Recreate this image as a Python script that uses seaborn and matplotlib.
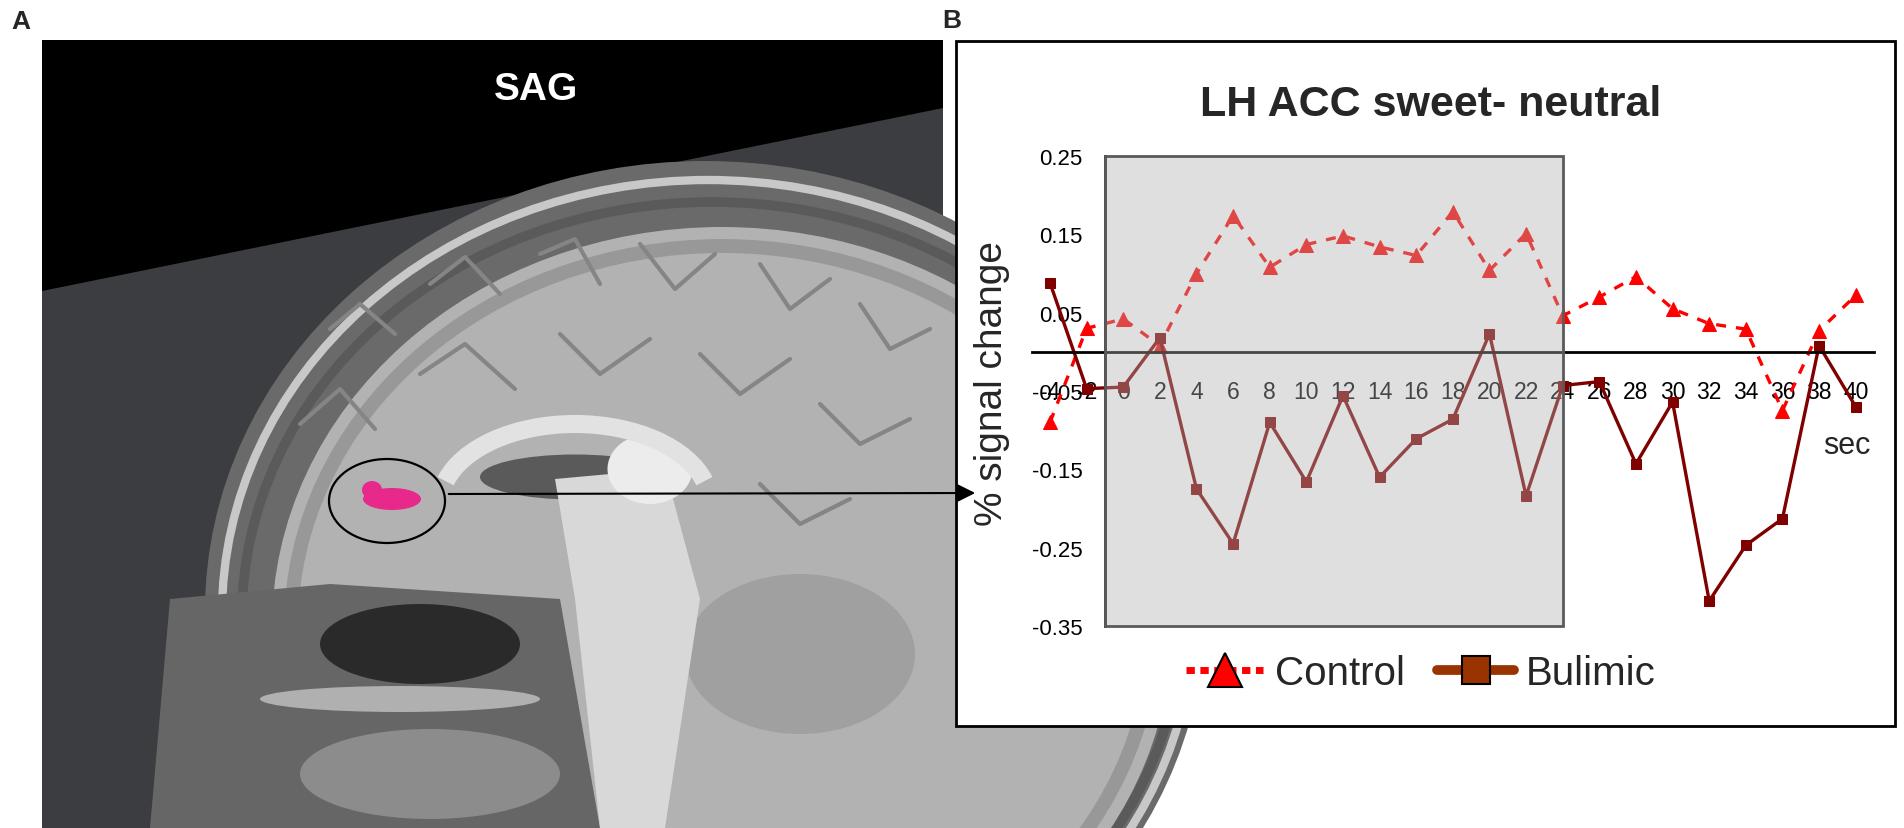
import numpy as np
import seaborn as sns
import matplotlib.pyplot as plt
from matplotlib.patches import Rectangle, Ellipse, Polygon, Arc
from matplotlib.lines import Line2D

# time course (sec) and % signal change
sec = [-4, -2, 0, 2, 4, 6, 8, 10, 12, 14, 16, 18, 20, 22, 24, 26, 28, 30, 32, 34, 36, 38, 40]
control = [-0.09, 0.03, 0.042, 0.008, 0.10, 0.174, 0.108, 0.137, 0.148, 0.134, 0.123, 0.179,
           0.104, 0.151, 0.046, 0.07, 0.096, 0.055, 0.036, 0.029, -0.075, 0.027, 0.072]
bulimic = [0.088, -0.047, -0.045, 0.018, -0.175, -0.245, -0.09, -0.166, -0.056, -0.16, -0.111,
           -0.086, 0.023, -0.184, -0.043, -0.038, -0.143, -0.064, -0.318, -0.247, -0.213, 0.008, -0.07]
x_labels = [str(s) for s in sec]
y_ticks = [0.25, 0.15, 0.05, -0.05, -0.15, -0.25, -0.35]
y_labels = ["0.25", "0.15", "0.05", "-0.05", "-0.15", "-0.25", "-0.35"]
series_names = ["Control", "Bulimic"]
stim_window = (-1, 24)  # shaded taste period

sns.set_theme(style="white")
plt.rcParams["font.family"] = ["Liberation Sans", "DejaVu Sans"]

W, H = 1904, 829
fig = plt.figure(figsize=(W / 100, H / 100), dpi=100)
fig.patch.set_facecolor("white")

# ---- background layer in pixel coords: panel A picture, frame of B, arrow
bg = fig.add_axes([0, 0, 1, 1])
bg.set_xlim(0, W)
bg.set_ylim(H, 0)
bg.axis("off")

panel = Rectangle((42, 41), 901, 788, fc="black", ec="none", zorder=1)
bg.add_patch(panel)

# rough sketch of the sagittal slice
mri = [
    Polygon([(42, 292), (943, 109), (943, 829), (42, 829)], fc="#3b3d40"),
    Ellipse((705, 612), 1000, 900, fc="#6a6a6a"),
    Ellipse((708, 615), 972, 868, fill=False, ec="#c8c8c8", lw=6),
    Ellipse((712, 618), 940, 830, fill=False, ec="#5a5a5a", lw=7),
    Ellipse((722, 628), 900, 800, fc="#b2b2b2"),
    Ellipse((722, 628), 862, 762, fill=False, ec="#989898", lw=10),
    Polygon([(170, 600), (330, 585), (560, 600), (600, 829), (150, 829)], fc="#666666"),
    Ellipse((420, 645), 200, 80, fc="#2a2a2a"),
    Ellipse((400, 700), 280, 26, fc="#b0b0b0"),
    Ellipse((430, 775), 260, 90, fc="#8c8c8c"),
    Ellipse((800, 655), 230, 160, fc="#a0a0a0"),
    Ellipse((575, 478), 190, 45, fc="#5a5a5a"),
    Polygon([(555, 480), (665, 470), (700, 600), (665, 829), (600, 829), (575, 600)], fc="#d8d8d8"),
    Ellipse((650, 470), 85, 70, fc="#ececec"),
]
for p in mri:
    p.set_zorder(2)
    p.set_edgecolor(p.get_edgecolor() if not p.get_fill() else "none")
    p.set_clip_path(panel)
    bg.add_patch(p)

cc = Arc((575, 505), 270, 160, theta1=190, theta2=350, color="#e2e2e2", lw=13, zorder=3)
cc.set_clip_path(panel)
bg.add_patch(cc)

sulci = [
    [(330, 330), (360, 305), (395, 335)], [(430, 285), (465, 258), (500, 295)],
    [(540, 255), (575, 240), (600, 285)], [(640, 245), (675, 290), (715, 255)],
    [(760, 265), (790, 310), (830, 280)], [(860, 305), (890, 350), (930, 330)],
    [(300, 425), (340, 390), (375, 430)], [(420, 375), (465, 345), (515, 390)],
    [(560, 335), (600, 375), (650, 340)], [(700, 355), (740, 395), (790, 360)],
    [(820, 405), (860, 445), (910, 420)], [(760, 485), (800, 525), (850, 500)],
]
for pts in sulci:
    xs, ys = zip(*pts)
    ln, = bg.plot(xs, ys, color="#858585", lw=3, zorder=3, solid_capstyle="round")
    ln.set_clip_path(panel)

bg.add_patch(Ellipse((392, 500), 58, 22, fc="#e8288a", ec="none", zorder=4))
bg.add_patch(Ellipse((372, 491), 20, 18, fc="#e8288a", ec="none", zorder=4))
bg.add_patch(Ellipse((387, 502), 116, 84, fill=False, ec="black", lw=1.6, zorder=4))

bg.text(536, 90, "SAG", color="white", fontsize=28, fontweight="bold",
        ha="center", va="center", zorder=4)
bg.text(21, 22, "A", fontsize=19, fontweight="bold", ha="center", va="center")
bg.text(952, 21, "B", fontsize=19, fontweight="bold", ha="center", va="center")

bg.add_patch(Rectangle((956, 42), 939, 685, fc="white", ec="black", lw=2, zorder=5))
bg.annotate("", xy=(978, 494), xytext=(446, 495), zorder=6,
            arrowprops=dict(arrowstyle="-|>", color="black", lw=1.5, mutation_scale=28))

# ---- chart B
ax = fig.add_axes([1031.7 / W, 1 - 627 / H, 842.3 / W, 470 / H])
ax.set_facecolor("none")

sns.lineplot(x=sec, y=control, ax=ax, color="red", linestyle=(0, (3, 3)), linewidth=2.4,
             marker="^", markersize=10, markeredgecolor="red", legend=False, errorbar=None)
sns.lineplot(x=sec, y=bulimic, ax=ax, color="#800000", linewidth=2.4,
             marker="s", markersize=7.5, markeredgecolor="#800000", legend=False, errorbar=None)

ax.set_xlim(-5, 41)
ax.set_ylim(-0.35, 0.25)

for s in ["top", "right"]:
    ax.spines[s].set_visible(False)
ax.spines["left"].set_position(("data", -1))
ax.spines["bottom"].set_position(("data", 0))
for s in ["left", "bottom"]:
    ax.spines[s].set_color("black")
    ax.spines[s].set_linewidth(2)

ax.set_xticks(sec)
ax.set_xticklabels(x_labels, fontsize=16.5)
ax.set_xticks(np.arange(-5, 42, 2), minor=True)
ax.tick_params(axis="x", which="major", length=0, pad=20, colors="black")
ax.tick_params(axis="x", which="minor", length=6, width=1.5, direction="out", colors="black")
ax.set_yticks(y_ticks)
ax.set_yticklabels(y_labels, fontsize=16)
ax.tick_params(axis="y", length=5, width=1.5, direction="out", pad=11, colors="black")

lo, hi = stim_window
ax.add_patch(Rectangle((lo, -0.35), hi - lo, 0.6, fc="#b1b1b1", alpha=0.4, ec="none", zorder=5))
ax.add_patch(Rectangle((lo, -0.35), hi - lo, 0.6, fill=False, ec="#5a5a5a", lw=2, zorder=6,
                       clip_on=False))

ax.set_ylabel("% signal change", fontsize=28)
ax.yaxis.set_label_coords(-0.026, 0.519)
ax.text(0.968, 0.385, "sec", transform=ax.transAxes, fontsize=22, ha="center", va="center")

fig.text(1431 / W, 1 - 105 / H, "LH ACC sweet- neutral", fontsize=31, fontweight="bold",
         ha="center", va="center")

handles = [
    Line2D([], [], color="red", lw=5, ls=(0, (1.2, 0.8)), marker="^", markersize=24,
           markerfacecolor="red", markeredgecolor="black", markeredgewidth=1.5),
    Line2D([], [], color="#993300", lw=7, marker="s", markersize=20,
           markerfacecolor="#993300", markeredgecolor="black", markeredgewidth=1.5),
]
fig.legend(handles, series_names, loc="center", bbox_to_anchor=(1421 / W, 1 - 674 / H),
           ncol=2, frameon=False, fontsize=29, handlelength=1.9, handletextpad=0.3,
           columnspacing=0.8)

fig.savefig("out.png", dpi=100, facecolor="white")
